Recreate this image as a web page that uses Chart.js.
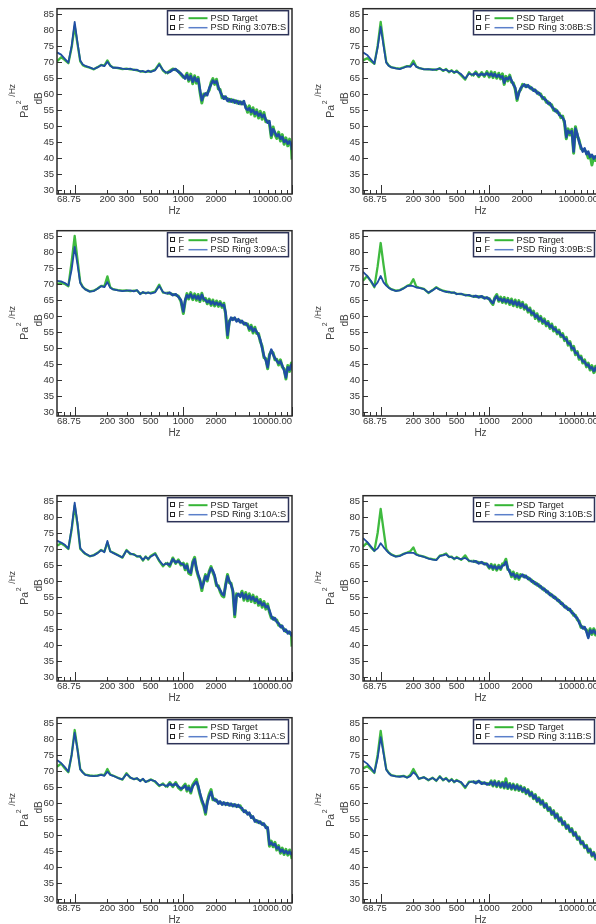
<!DOCTYPE html>
<html><head><meta charset="utf-8">
<script src="https://cdn.jsdelivr.net/npm/chart.js@4.4.1/dist/chart.umd.min.js"></script>
<style>
html,body{margin:0;padding:0;background:#fff;overflow:hidden;}
#page{position:relative;width:596px;height:924px;overflow:hidden;background:#fff;}
#page canvas{position:absolute;}
</style></head><body><div id="page"></div>
<script>
// Frequency grid (Hz), shared by all panels
const freqHz = [
 68.75, 75, 81.25, 87.5, 93.75, 100, 106.25, 112.5, 118.75, 125,
 137.5, 150, 162.5, 175, 187.5, 200, 212.5, 225, 250, 275,
 300, 325, 350, 375, 400, 425, 450, 475, 500, 550,
 600, 650, 700, 750, 800, 850, 900, 950, 1000, 1040,
 1080, 1120, 1170, 1220, 1270, 1320, 1370, 1420, 1480, 1540,
 1600, 1660, 1730, 1800, 1870, 1940, 2020, 2100, 2180, 2270,
 2360, 2450, 2550, 2650, 2750, 2860, 2970, 3090, 3210, 3340,
 3470, 3610, 3750, 3900, 4050, 4210, 4380, 4550, 4730, 4920,
 5110, 5310, 5520, 5740, 5970, 6200, 6450, 6700, 6970, 7240,
 7530, 7830, 8140, 8460, 8790, 9140, 9500, 9870, 10000];

// Tick values / labels
const xTickValues = [68.75, 200, 300, 500, 1000, 2000, 10000];
const xTickLabels = ['68.75', '200', '300', '500', '1000', '2000', '10000.00'];
const xMinorTicks = [70, 80, 90, 200, 300, 400, 500, 600, 700, 800, 900, 2000, 3000, 4000, 5000, 6000, 7000, 8000, 9000];
const xMajorTicks = [100, 1000, 10000];
const yTickValues = [30, 35, 40, 45, 50, 55, 60, 65, 70, 75, 80, 85];

// ---- Panel 3:07B ----
const target307B = [
 70.2, 71.5, 70.6, 69.6, 74.5, 81.2, 75.5, 70.2, 69.0, 68.6,
 68.2, 67.7, 68.4, 69.1, 68.9, 70.5, 68.9, 68.3, 68.1, 67.8,
 67.9, 67.7, 67.6, 67.4, 67.1, 67.0, 66.9, 67.1, 67.0, 67.6,
 69.5, 67.3, 66.4, 67.2, 67.8, 67.6, 67.1, 66.1, 65.2, 65.3,
 66.5, 64.0, 66.2, 63.2, 65.7, 63.4, 65.2, 60.8, 57.2, 60.0,
 59.6, 60.3, 61.2, 63.6, 64.8, 63.0, 64.6, 61.6, 61.4, 58.8,
 59.2, 58.5, 58.6, 57.7, 58.3, 57.5, 58.0, 57.2, 57.7, 56.9,
 57.5, 57.0, 56.3, 54.3, 56.3, 53.7, 55.7, 53.1, 55.1, 52.5,
 54.6, 52.1, 54.2, 51.3, 51.6, 50.8, 46.3, 49.7, 47.3, 46.1,
 48.1, 45.3, 47.3, 44.3, 46.3, 43.8, 45.9, 43.3, 39.5];
const ring307B = [
 73.0, 72.3, 71.0, 69.8, 75.0, 82.5, 76.0, 70.5, 69.2, 68.8,
 68.3, 67.8, 68.3, 69.0, 68.7, 70.1, 68.8, 68.2, 68.2, 67.9,
 67.8, 67.9, 67.5, 67.6, 67.0, 67.2, 66.8, 67.3, 66.9, 67.4,
 69.2, 67.5, 66.6, 66.9, 67.6, 67.8, 66.9, 66.4, 65.5, 64.8,
 66.0, 64.5, 65.6, 63.8, 65.2, 64.0, 64.7, 61.5, 58.0, 59.5,
 60.2, 59.6, 61.8, 63.0, 64.2, 63.5, 64.0, 62.2, 60.8, 59.5,
 58.5, 59.2, 57.8, 58.4, 57.6, 58.2, 57.3, 57.9, 57.0, 57.6,
 56.8, 57.8, 55.6, 55.0, 55.6, 54.4, 55.0, 53.8, 54.4, 53.2,
 53.9, 52.8, 53.5, 52.0, 51.0, 51.5, 47.0, 49.0, 48.0, 46.8,
 47.4, 46.0, 46.6, 45.0, 45.6, 44.5, 45.2, 44.0, 42.5];

// ---- Panel 3:08B ----
const target308B = [
 70.5, 71.2, 70.3, 69.4, 75.0, 82.5, 75.8, 70.0, 68.9, 68.4,
 68.1, 67.9, 68.3, 68.7, 68.8, 70.4, 68.6, 68.1, 67.8, 67.7,
 67.7, 67.5, 68.1, 67.2, 67.8, 66.8, 67.4, 66.6, 67.3, 65.8,
 64.5, 66.8, 65.6, 66.9, 65.4, 66.7, 65.5, 67.0, 65.3, 66.9,
 65.1, 66.7, 64.9, 66.5, 64.7, 66.3, 63.0, 65.5, 64.1, 65.9,
 63.7, 63.5, 61.5, 58.0, 60.7, 61.3, 63.0, 62.5, 62.7, 62.3,
 62.3, 61.5, 61.5, 60.8, 60.7, 59.9, 60.0, 58.5, 58.9, 57.4,
 57.6, 56.6, 56.6, 54.9, 55.2, 54.2, 54.1, 52.6, 53.1, 50.8,
 46.0, 49.1, 47.2, 49.0, 41.5, 49.8, 46.9, 45.6, 42.9, 42.6,
 42.4, 41.8, 40.0, 40.9, 37.8, 40.4, 39.2, 40.6, 40.4];
const ring308B = [
 73.0, 72.2, 70.8, 69.5, 74.5, 81.0, 75.0, 69.8, 68.8, 68.3,
 68.0, 67.8, 68.2, 68.6, 68.5, 69.6, 68.5, 68.2, 67.7, 67.8,
 67.5, 67.7, 67.9, 67.4, 67.6, 67.0, 67.2, 66.8, 67.0, 66.2,
 64.8, 66.4, 66.0, 66.5, 65.8, 66.3, 65.9, 66.5, 65.8, 66.4,
 65.6, 66.2, 65.4, 66.0, 65.2, 65.5, 63.5, 65.0, 64.6, 65.4,
 64.2, 63.0, 62.0, 58.5, 60.2, 61.8, 62.5, 63.0, 62.2, 62.8,
 61.8, 62.0, 61.0, 61.3, 60.2, 60.4, 59.5, 59.0, 58.4, 58.0,
 57.0, 57.2, 56.0, 55.5, 54.6, 54.8, 53.5, 53.2, 52.5, 51.5,
 46.5, 48.5, 47.8, 48.4, 42.0, 49.2, 47.5, 45.0, 43.5, 42.0,
 43.0, 41.2, 42.0, 40.3, 41.0, 39.8, 40.5, 40.0, 41.0];

// ---- Panel 3:09A ----
const target309A = [
 70.0, 70.3, 70.0, 69.3, 77.0, 85.0, 77.5, 70.6, 69.1, 68.4,
 67.7, 67.9, 68.6, 69.4, 69.3, 72.4, 69.0, 68.4, 68.1, 67.9,
 68.0, 67.8, 67.9, 67.9, 67.0, 67.3, 67.2, 67.2, 67.2, 67.6,
 69.8, 67.3, 67.2, 67.1, 66.7, 66.6, 66.2, 64.6, 60.8, 64.6,
 67.0, 65.3, 67.3, 65.1, 66.9, 64.9, 66.7, 64.5, 67.1, 64.8,
 65.5, 63.8, 65.3, 63.3, 65.0, 63.1, 64.7, 63.0, 64.5, 62.7,
 64.0, 60.5, 53.2, 58.5, 59.0, 59.3, 59.0, 58.8, 58.5, 58.5,
 58.0, 57.9, 57.3, 57.5, 55.5, 57.1, 54.7, 56.5, 54.5, 54.5,
 52.0, 50.5, 47.0, 46.7, 43.5, 48.0, 49.0, 48.5, 46.3, 46.5,
 44.7, 46.3, 44.0, 43.5, 40.3, 44.5, 42.7, 45.3, 43.0];
const ring309A = [
 71.0, 70.8, 70.3, 69.5, 74.5, 81.6, 76.0, 70.3, 69.0, 68.3,
 67.6, 67.8, 68.5, 69.3, 69.0, 70.6, 68.8, 68.3, 68.0, 67.8,
 67.9, 68.0, 67.7, 68.1, 66.8, 67.5, 67.0, 67.4, 67.0, 67.4,
 69.4, 67.5, 67.0, 67.3, 66.5, 66.8, 66.0, 65.0, 61.4, 65.0,
 66.5, 65.8, 66.8, 65.6, 66.4, 65.4, 66.2, 65.0, 66.6, 65.3,
 65.0, 64.3, 64.8, 63.8, 64.5, 63.6, 64.2, 63.5, 64.0, 63.2,
 63.5, 61.0, 54.0, 58.0, 59.5, 58.8, 59.5, 58.3, 59.0, 58.0,
 58.5, 57.4, 57.8, 57.0, 56.0, 56.6, 55.2, 56.0, 55.0, 54.0,
 52.5, 50.0, 47.5, 46.2, 44.0, 47.5, 49.5, 48.0, 46.8, 46.0,
 45.2, 45.8, 44.5, 43.0, 40.8, 44.0, 43.2, 44.8, 44.0];

// ---- Panel 3:09B ----
const target309B = [
 71.0, 72.5, 70.8, 69.0, 75.5, 82.8, 76.0, 70.2, 68.9, 68.4,
 67.9, 68.1, 68.7, 69.4, 69.8, 71.5, 69.2, 68.9, 68.5, 67.2,
 68.1, 69.0, 68.3, 67.9, 67.7, 67.4, 67.4, 67.2, 67.0, 66.8,
 66.6, 66.4, 66.2, 66.1, 66.0, 66.0, 65.7, 65.6, 65.4, 64.3,
 63.6, 65.7, 66.7, 64.6, 65.9, 64.2, 65.8, 64.0, 65.5, 63.6,
 65.3, 63.2, 65.0, 62.9, 64.8, 62.6, 64.3, 62.1, 63.5, 61.2,
 62.5, 60.3, 61.5, 59.2, 60.7, 58.4, 59.9, 57.7, 59.1, 56.9,
 58.3, 56.1, 57.5, 55.3, 56.5, 54.4, 55.6, 53.5, 54.5, 52.3,
 53.3, 50.9, 52.0, 49.4, 50.5, 47.9, 48.9, 46.5, 47.5, 45.3,
 46.3, 44.1, 45.3, 43.1, 44.5, 42.3, 44.3, 42.1, 43.6];
const ring309B = [
 73.8, 72.5, 71.0, 69.2, 70.5, 72.5, 70.5, 69.5, 68.8, 68.3,
 67.8, 68.0, 68.6, 69.3, 69.5, 69.3, 68.9, 68.8, 68.4, 67.3,
 68.0, 68.8, 68.2, 67.8, 67.5, 67.6, 67.2, 67.4, 66.8, 67.0,
 66.4, 66.6, 66.0, 66.3, 65.8, 66.2, 65.5, 65.8, 65.2, 64.6,
 64.0, 65.3, 66.2, 65.0, 65.4, 64.6, 65.3, 64.4, 65.0, 64.1,
 64.8, 63.7, 64.5, 63.4, 64.3, 63.1, 63.8, 62.6, 63.0, 61.7,
 62.0, 60.8, 61.0, 59.7, 60.2, 58.9, 59.4, 58.2, 58.6, 57.4,
 57.8, 56.6, 57.0, 55.8, 56.0, 54.9, 55.1, 54.0, 54.0, 52.8,
 52.8, 51.4, 51.5, 49.9, 50.0, 48.4, 48.4, 47.0, 47.0, 45.8,
 45.8, 44.6, 44.8, 43.6, 44.0, 42.8, 43.8, 42.6, 43.2];

// ---- Panel 3:10A ----
const target310A = [
 71.0, 71.8, 71.0, 70.0, 76.0, 83.5, 77.5, 70.0, 69.2, 68.5,
 67.7, 68.1, 68.8, 69.7, 69.2, 72.0, 69.3, 68.9, 68.1, 67.3,
 69.7, 68.4, 68.4, 67.6, 67.8, 66.4, 67.7, 66.7, 67.8, 68.7,
 66.2, 64.6, 65.8, 64.6, 67.2, 65.5, 66.6, 65.0, 65.6, 63.5,
 65.3, 62.4, 62.0, 66.0, 67.4, 63.5, 61.5, 60.0, 57.0, 60.0,
 62.0, 60.0, 63.0, 64.5, 62.7, 61.3, 58.5, 58.5, 56.7, 55.4,
 55.0, 59.0, 62.0, 59.5, 59.3, 56.5, 48.8, 56.0, 55.5, 55.6,
 56.8, 54.0, 56.4, 53.8, 56.0, 53.6, 55.6, 53.2, 55.0, 52.4,
 54.2, 51.8, 53.6, 51.2, 52.8, 50.2, 48.4, 48.6, 47.8, 47.8,
 46.2, 46.2, 45.4, 45.0, 44.2, 44.2, 43.6, 43.6, 39.5];
const ring310A = [
 72.6, 72.0, 71.3, 70.1, 76.5, 84.5, 78.0, 70.3, 69.3, 68.6,
 67.8, 68.0, 68.7, 69.6, 69.0, 72.5, 69.2, 68.8, 68.0, 67.4,
 69.5, 68.6, 68.2, 67.8, 67.6, 66.6, 67.5, 66.9, 67.6, 68.4,
 66.5, 65.0, 65.5, 65.0, 66.8, 65.8, 66.2, 65.4, 65.2, 64.0,
 64.8, 63.0, 62.5, 65.5, 66.8, 64.0, 62.0, 60.5, 57.8, 59.5,
 61.5, 60.5, 62.5, 64.0, 63.2, 61.8, 59.0, 58.0, 57.2, 56.0,
 55.5, 58.5, 61.5, 60.0, 58.8, 57.0, 49.5, 55.5, 56.0, 55.0,
 56.2, 54.6, 55.8, 54.4, 55.4, 54.2, 55.0, 53.8, 54.4, 53.0,
 53.6, 52.4, 53.0, 51.8, 52.2, 50.8, 49.0, 48.0, 48.4, 47.2,
 46.8, 45.6, 46.0, 44.4, 44.8, 43.6, 44.2, 43.0, 43.4];

// ---- Panel 3:10B ----
const target310B = [
 70.7, 72.0, 70.5, 69.4, 75.0, 82.5, 76.0, 70.0, 68.9, 68.3,
 67.7, 67.9, 68.5, 68.9, 69.3, 70.5, 68.4, 68.0, 67.6, 67.1,
 66.8, 66.6, 67.9, 68.2, 68.6, 67.5, 67.6, 66.8, 67.5, 66.6,
 68.0, 66.2, 66.3, 66.0, 65.8, 65.7, 65.5, 65.2, 64.0, 65.2,
 63.6, 65.0, 63.4, 64.9, 63.6, 65.3, 65.5, 66.8, 63.6, 63.3,
 61.3, 62.8, 60.7, 62.3, 60.5, 62.0, 61.5, 61.7, 61.1, 61.1,
 60.3, 60.3, 59.4, 59.5, 58.7, 58.8, 57.9, 57.9, 57.1, 57.0,
 56.2, 56.1, 55.3, 55.3, 54.5, 54.4, 53.5, 53.4, 52.5, 52.3,
 51.5, 51.5, 50.7, 50.5, 49.3, 49.3, 47.9, 47.5, 45.5, 45.7,
 45.1, 44.7, 42.8, 45.1, 43.3, 45.1, 43.1, 44.9, 43.3];
const ring310B = [
 73.4, 72.2, 70.8, 69.4, 70.2, 71.8, 70.6, 69.6, 68.8, 68.2,
 67.6, 67.8, 68.4, 68.8, 68.8, 68.8, 68.2, 67.9, 67.5, 67.0,
 66.7, 66.5, 67.8, 68.0, 68.3, 67.6, 67.4, 67.0, 67.2, 66.8,
 67.2, 66.4, 66.0, 66.2, 65.5, 65.9, 65.2, 65.4, 64.3, 64.8,
 64.0, 64.6, 63.8, 64.5, 64.0, 64.8, 65.0, 66.0, 64.0, 62.8,
 61.8, 62.3, 61.2, 61.8, 61.0, 61.5, 62.0, 61.2, 61.6, 60.6,
 60.8, 59.8, 59.9, 59.0, 59.2, 58.3, 58.4, 57.4, 57.6, 56.5,
 56.7, 55.6, 55.8, 54.8, 55.0, 53.9, 54.0, 52.9, 53.0, 51.8,
 52.0, 51.0, 51.2, 50.0, 49.8, 48.8, 48.4, 47.0, 46.0, 45.2,
 45.6, 44.2, 42.2, 44.6, 43.8, 44.6, 43.6, 44.4, 43.8];

// ---- Panel 3:11A ----
const target311A = [
 71.3, 72.3, 70.8, 69.6, 75.0, 82.8, 76.8, 70.6, 69.6, 68.9,
 68.6, 68.5, 68.6, 68.9, 68.7, 70.6, 68.9, 68.6, 67.9, 67.3,
 69.3, 67.9, 67.5, 67.6, 67.0, 67.4, 66.7, 66.8, 67.4, 66.6,
 65.3, 66.1, 64.9, 66.4, 65.1, 66.4, 64.8, 64.1, 65.2, 65.9,
 63.7, 65.3, 63.1, 65.7, 66.6, 67.4, 64.9, 62.7, 60.5, 59.0,
 56.5, 60.5, 62.8, 64.2, 61.0, 61.3, 60.5, 60.3, 60.0, 60.0,
 59.7, 59.9, 59.5, 59.7, 59.3, 59.5, 59.1, 59.3, 58.9, 59.1,
 57.9, 57.7, 57.1, 56.9, 56.5, 55.9, 55.3, 54.7, 54.1, 54.3,
 53.7, 53.7, 53.1, 52.7, 51.9, 46.5, 48.1, 46.3, 47.7, 45.3,
 46.7, 44.3, 45.9, 43.9, 45.5, 43.7, 45.3, 43.5, 42.5];
const ring311A = [
 73.4, 72.5, 71.2, 69.8, 75.0, 82.0, 76.5, 70.5, 69.5, 68.8,
 68.5, 68.4, 68.5, 68.8, 68.5, 69.8, 68.8, 68.5, 67.8, 67.4,
 69.0, 68.0, 67.4, 67.8, 66.8, 67.6, 66.5, 67.0, 67.2, 66.8,
 65.5, 65.8, 65.2, 66.0, 65.5, 66.0, 65.2, 64.5, 64.8, 65.4,
 64.2, 64.8, 63.6, 65.2, 66.0, 66.6, 65.4, 63.2, 61.0, 59.5,
 57.0, 60.0, 62.2, 63.5, 61.5, 60.8, 61.0, 59.8, 60.5, 59.5,
 60.2, 59.4, 60.0, 59.2, 59.8, 59.0, 59.6, 58.8, 59.4, 58.6,
 58.4, 57.2, 57.6, 56.4, 57.0, 55.4, 55.8, 54.2, 54.6, 53.8,
 54.2, 53.2, 53.6, 52.2, 52.4, 47.0, 47.6, 46.8, 47.2, 45.8,
 46.2, 44.8, 45.4, 44.4, 45.0, 44.2, 44.8, 44.0, 44.6];

// ---- Panel 3:11B ----
const target311B = [
 70.8, 71.5, 70.5, 69.4, 75.0, 82.5, 76.0, 70.6, 69.4, 68.7,
 68.4, 68.3, 68.5, 68.0, 68.8, 70.6, 69.0, 67.5, 68.1, 67.1,
 67.9, 66.9, 68.4, 67.1, 67.8, 66.7, 67.5, 66.5, 67.2, 66.3,
 64.7, 66.7, 66.6, 66.5, 66.7, 66.3, 66.2, 66.1, 65.8, 66.9,
 65.3, 66.9, 65.1, 66.7, 64.9, 66.5, 64.7, 67.6, 64.5, 66.1,
 64.3, 65.9, 64.1, 65.7, 63.9, 65.3, 63.5, 64.8, 62.9, 64.2,
 62.2, 63.4, 61.3, 62.6, 60.4, 61.6, 59.6, 60.8, 58.6, 59.8,
 57.6, 58.6, 56.4, 57.6, 55.3, 56.6, 54.3, 55.4, 53.2, 54.2,
 52.0, 53.1, 51.0, 52.0, 49.8, 50.8, 48.6, 49.4, 47.2, 48.0,
 46.0, 46.8, 44.6, 45.6, 43.4, 44.6, 42.4, 44.0, 42.0];
const ring311B = [
 73.2, 72.3, 71.0, 69.5, 74.0, 80.6, 75.5, 70.4, 69.3, 68.6,
 68.3, 68.2, 68.4, 67.9, 68.4, 69.6, 68.8, 67.6, 68.0, 67.2,
 67.8, 67.0, 68.2, 67.2, 67.6, 66.8, 67.3, 66.6, 67.0, 66.5,
 65.0, 66.4, 66.8, 66.2, 66.9, 66.0, 66.4, 65.8, 66.0, 66.6,
 65.6, 66.6, 65.4, 66.4, 65.2, 66.2, 65.0, 66.4, 64.8, 65.8,
 64.6, 65.6, 64.4, 65.4, 64.2, 65.0, 63.8, 64.5, 63.2, 63.9,
 62.5, 63.1, 61.6, 62.3, 60.7, 61.3, 59.9, 60.5, 58.9, 59.5,
 57.9, 58.3, 56.7, 57.3, 55.6, 56.3, 54.6, 55.1, 53.5, 53.9,
 52.3, 52.8, 51.3, 51.7, 50.1, 50.5, 48.9, 49.1, 47.5, 47.7,
 46.3, 46.5, 44.9, 45.3, 43.7, 44.3, 42.9, 43.7, 42.8];

const panels = [
  {ring: 'PSD Ring 3:07B:S', target: target307B, data: ring307B, left: 0,   top: 0},
  {ring: 'PSD Ring 3:08B:S', target: target308B, data: ring308B, left: 306, top: 0},
  {ring: 'PSD Ring 3:09A:S', target: target309A, data: ring309A, left: 0,   top: 222},
  {ring: 'PSD Ring 3:09B:S', target: target309B, data: ring309B, left: 306, top: 222},
  {ring: 'PSD Ring 3:10A:S', target: target310A, data: ring310A, left: 0,   top: 487},
  {ring: 'PSD Ring 3:10B:S', target: target310B, data: ring310B, left: 306, top: 487},
  {ring: 'PSD Ring 3:11A:S', target: target311A, data: ring311A, left: 0,   top: 709},
  {ring: 'PSD Ring 3:11B:S', target: target311B, data: ring311B, left: 306, top: 709}
];

const FONT = "'Liberation Sans', Arial, sans-serif";
const TXT = '#333333';

const psdFrame = {
  id: 'psdFrame',
  afterDraw(chart, args, opts) {
    const ctx = chart.ctx, a = chart.chartArea;
    const xs = chart.scales.x, ys = chart.scales.y;
    ctx.save();
    // inward tick marks
    ctx.strokeStyle = '#333'; ctx.lineWidth = 1;
    ctx.beginPath();
    xMinorTicks.forEach(v => { const px = Math.round(xs.getPixelForValue(v)) + 0.5; ctx.moveTo(px, a.bottom); ctx.lineTo(px, a.bottom - 4); });
    xMajorTicks.forEach(v => { const px = Math.round(xs.getPixelForValue(v)) + 0.5; ctx.moveTo(px, a.bottom); ctx.lineTo(px, a.bottom - 9); });
    yTickValues.forEach(v => { const py = Math.round(ys.getPixelForValue(v)) + 0.5; ctx.moveTo(a.left, py); ctx.lineTo(a.left + 5, py); });
    ctx.stroke();
    // frame
    ctx.lineWidth = 1.5; ctx.strokeStyle = '#2a2a2a';
    ctx.strokeRect(a.left, a.top, a.right - a.left, a.bottom - a.top);
    // legend
    const lx = a.left + 110.5, ly = a.top + 2, lw = 121, lh = 24;
    ctx.fillStyle = '#fff'; ctx.fillRect(lx, ly, lw, lh);
    ctx.lineWidth = 1.5; ctx.strokeStyle = '#2d3358'; ctx.strokeRect(lx, ly, lw, lh);
    const ds = chart.data.datasets;
    const rows = [
      {c: '#36b536', w: 2, t: ds[0].label},
      {c: '#5b7fca', w: 1.5, t: ds[1].label}
    ];
    ctx.font = '9.2px ' + FONT; ctx.textBaseline = 'middle'; ctx.textAlign = 'left';
    rows.forEach((r, k) => {
      const cy = ly + 7.5 + k * 9.5;
      ctx.lineWidth = 1; ctx.strokeStyle = '#222';
      ctx.strokeRect(lx + 3, Math.round(cy) - 2.5, 4, 4);
      ctx.fillStyle = '#222';
      ctx.fillText('F', lx + 11, cy);
      ctx.strokeStyle = r.c; ctx.lineWidth = r.w;
      ctx.beginPath(); ctx.moveTo(lx + 21, cy); ctx.lineTo(lx + 40, cy); ctx.stroke();
      ctx.fillText(r.t, lx + 43, cy);
    });
    // y axis titles (rotated)
    const cm = (a.top + a.bottom) / 2;
    const vtext = (t, x, y, size) => {
      ctx.save(); ctx.translate(x, y); ctx.rotate(-Math.PI / 2);
      ctx.font = size + 'px ' + FONT; ctx.fillStyle = '#444'; ctx.textAlign = 'center'; ctx.textBaseline = 'middle';
      ctx.fillText(t, 0, 0); ctx.restore();
    };
    vtext('dB', 39, cm - 3, 10);
    vtext('Pa', 25, cm + 10, 10.5);
    vtext('2', 19, cm + 1, 7);
    vtext('/Hz', 12.5, cm - 11, 8.5);
    ctx.restore();
  }
};

// thicker stroke where the PSD traces are noisy (upper band)
const NOISY_FROM = 700;
const widthBy = (lo, hi) => c => (c.p0.parsed.x >= NOISY_FROM ? hi : lo);

const page = document.getElementById('page');
panels.forEach(p => {
  const cv = document.createElement('canvas');
  cv.width = 298; cv.height = 222;
  cv.style.left = p.left + 'px'; cv.style.top = p.top + 'px';
  cv.style.width = '298px'; cv.style.height = '222px';
  page.appendChild(cv);
  new Chart(cv, {
    type: 'line',
    data: {
      datasets: [
        {label: 'PSD Target', data: freqHz.map((f, i) => ({x: f, y: p.target[i]})), order: 2,
         borderColor: '#3fba3f', borderWidth: 2.3, pointRadius: 0, tension: 0, borderJoinStyle: 'round',
         segment: {borderWidth: widthBy(2.3, 3.0)}},
        {label: p.ring, data: freqHz.map((f, i) => ({x: f, y: p.data[i]})), order: 1,
         borderColor: '#1f4ea3', borderWidth: 1.8, pointRadius: 0, tension: 0, borderJoinStyle: 'round',
         segment: {borderWidth: widthBy(1.8, 2.5)}}
      ]
    },
    options: {
      responsive: false, animation: false, devicePixelRatio: 1,
      layout: {padding: {left: 0, right: 6, top: 8, bottom: 0}},
      plugins: {legend: {display: false}, tooltip: {enabled: false}},
      scales: {
        x: {
          type: 'logarithmic', min: 68.75, max: 10000, bounds: 'data', offset: false,
          grid: {display: false, drawTicks: false}, border: {display: false},
          afterBuildTicks: s => { s.ticks = xTickValues.map(v => ({value: v})); },
          afterFit: s => { s.height = 28; },
          ticks: {autoSkip: false, maxRotation: 0, minRotation: 0, align: 'inner', padding: 0,
                  color: TXT, font: {family: FONT, size: 9.5},
                  callback: (v, i) => xTickLabels[i]},
          title: {display: true, text: 'Hz', color: '#444', font: {family: FONT, size: 10}, padding: {top: 0, bottom: 5}}
        },
        y: {
          type: 'linear', min: 28.75, max: 86.65, bounds: 'data',
          grid: {display: false, drawTicks: false}, border: {display: false},
          afterBuildTicks: s => { s.ticks = yTickValues.map(v => ({value: v})); },
          afterFit: s => { s.width = 57; },
          ticks: {padding: 3, color: TXT, font: {family: FONT, size: 9.5}, callback: v => String(v)}
        }
      }
    },
    plugins: [psdFrame]
  });
});
</script>
</body></html>
